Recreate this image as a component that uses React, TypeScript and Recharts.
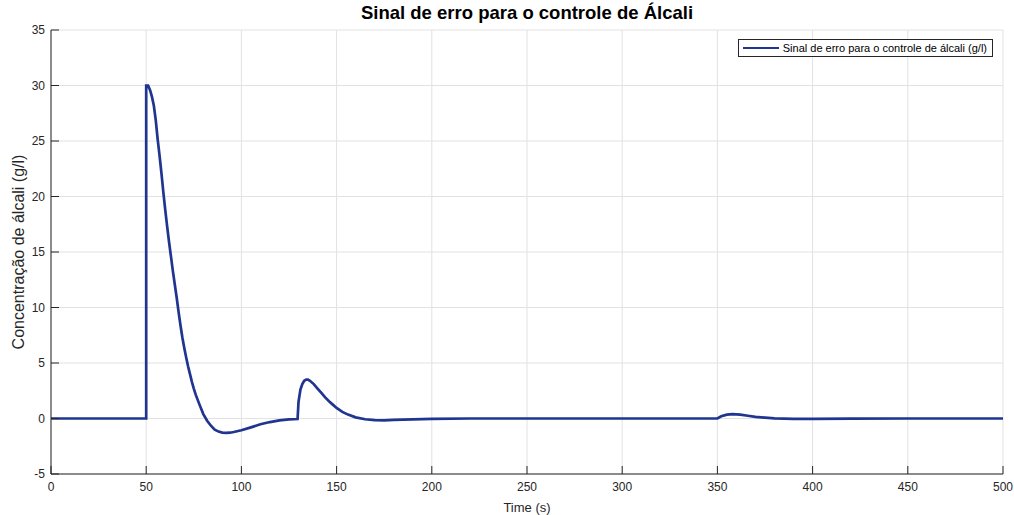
import { LineChart, Line, XAxis, YAxis, CartesianGrid, Legend } from "recharts";

// simulation time (s) and error signal (g/l)
const times = [
  0, 50, 50, 51, 52, 53, 54, 55, 56, 57, 58, 59, 60, 61, 62, 63, 64, 65, 66, 67, 68, 69, 70, 71, 72, 73, 74, 75,
  76, 78, 80, 82, 84, 86, 88, 90, 92, 94, 96, 100, 105, 110, 115, 120, 125, 129.5, 130, 131, 132, 133, 134, 135,
  136, 138, 140, 142, 144, 146, 148, 150, 153, 156, 160, 165, 170, 175, 180, 190, 200, 220, 350, 352, 355, 358,
  362, 366, 370, 375, 380, 390, 400, 420, 450, 500
];
const errorSignal = [
  0, 0, 30, 30, 29.6, 29.0, 28.2, 26.9, 25.2, 23.7, 22.1, 20.4, 18.8, 17.3, 15.9, 14.6, 13.3, 12.1, 10.9, 9.6,
  8.4, 7.3, 6.35, 5.5, 4.7, 4.0, 3.3, 2.7, 2.15, 1.25, 0.4, -0.2, -0.65, -1.0, -1.18, -1.27, -1.3, -1.28, -1.22,
  -1.06, -0.8, -0.52, -0.32, -0.17, -0.08, -0.05, 1.5, 2.6, 3.1, 3.4, 3.5, 3.5, 3.4, 3.1, 2.7, 2.3, 1.9, 1.55,
  1.25, 0.95, 0.6, 0.35, 0.1, -0.07, -0.15, -0.16, -0.13, -0.07, -0.03, 0, 0, 0.2, 0.35, 0.4, 0.35, 0.25, 0.15,
  0.08, 0.02, -0.03, -0.04, -0.01, 0, 0
];
const xTicks = [0, 50, 100, 150, 200, 250, 300, 350, 400, 450, 500];
const yTicks = [-5, 0, 5, 10, 15, 20, 25, 30, 35];

const data = times.map((t, i) => ({ t, erro: errorSignal[i] }));

const FONT = "'Liberation Sans', Arial, sans-serif";
const AXIS = "#262626";
const LINE = "#1f3590";

function LegendBox() {
  return (
    <div
      style={{
        position: "absolute",
        top: 39,
        right: 21,
        border: "1px solid #262626",
        background: "#fff",
        padding: "2px 5px 2px 4px",
        display: "flex",
        alignItems: "center",
        gap: 4,
        fontFamily: FONT,
        fontSize: 11,
        color: "#000"
      }}
    >
      <span style={{ display: "inline-block", width: 36, height: 2.5, background: LINE }} />
      Sinal de erro para o controle de álcali (g/l)
    </div>
  );
}

export default function App() {
  return (
    <div style={{ position: "absolute", left: 0, top: 0, width: 1014, height: 515, background: "#fff" }}>
      <div
        style={{
          position: "absolute",
          top: 2,
          left: 51,
          width: 952,
          textAlign: "center",
          fontFamily: FONT,
          fontWeight: "bold",
          fontSize: 18.5,
          color: "#000"
        }}
      >
        Sinal de erro para o controle de Álcali
      </div>
      <LineChart width={1014} height={515} data={data} margin={{ top: 30, right: 11, left: 0, bottom: 0 }}>
        <CartesianGrid xAxisId="main" yAxisId="main" stroke="#e2e2e2" strokeWidth={1} />
        <XAxis
          xAxisId="main"
          dataKey="t"
          type="number"
          domain={[0, 500]}
          ticks={xTicks}
          height={41}
          stroke={AXIS}
          tickSize={-8}
          tickMargin={16}
          tick={{ fill: AXIS, fontSize: 12, fontFamily: FONT }}
          label={{ value: "Time (s)", position: "insideBottom", offset: 3, fill: AXIS, fontSize: 13, fontFamily: FONT }}
        />
        <XAxis xAxisId="top" orientation="top" dataKey="t" type="number" domain={[0, 500]} ticks={xTicks} height={0} stroke={AXIS} tickSize={-8} tick={false} />
        <YAxis
          yAxisId="main"
          type="number"
          domain={[-5, 35]}
          ticks={yTicks}
          width={51}
          stroke={AXIS}
          tickSize={-8}
          tickMargin={14}
          tick={{ fill: AXIS, fontSize: 12, fontFamily: FONT }}
          label={{ value: "Concentração de álcali (g/l)", angle: -90, position: "center", dx: -7, fill: AXIS, fontSize: 16, fontFamily: FONT }}
        />
        <YAxis yAxisId="right" orientation="right" type="number" domain={[-5, 35]} ticks={yTicks} width={0} stroke={AXIS} tickSize={-8} tick={false} />
        <Legend content={<LegendBox />} wrapperStyle={{ position: "absolute", top: 0, left: 0, width: 1014, height: 0 }} />
        <Line
          xAxisId="main"
          yAxisId="main"
          type="linear"
          dataKey="erro"
          stroke={LINE}
          strokeWidth={2.7}
          dot={false}
          isAnimationActive={false}
          name="Sinal de erro para o controle de álcali (g/l)"
        />
      </LineChart>
    </div>
  );
}
